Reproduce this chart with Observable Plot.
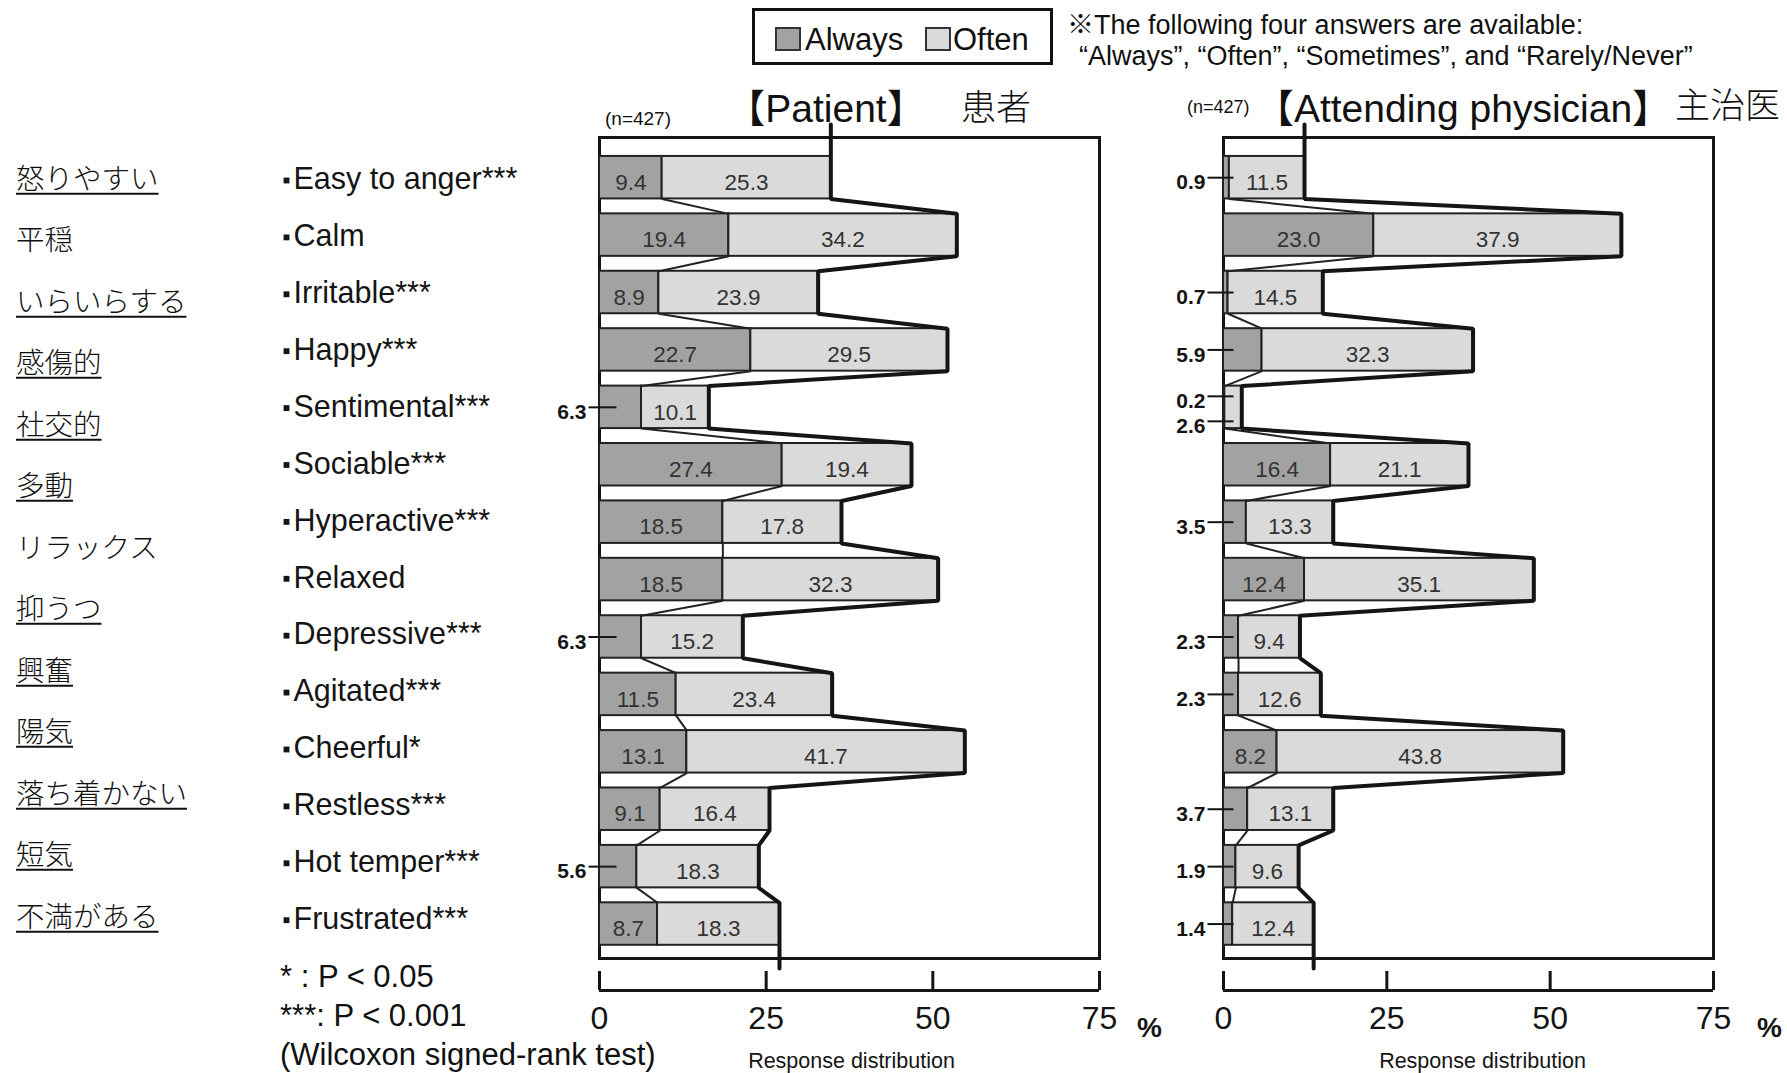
<!DOCTYPE html>
<html><head><meta charset="utf-8">
<script src="https://cdn.jsdelivr.net/npm/d3@7"></script>
<script src="https://cdn.jsdelivr.net/npm/@observablehq/plot@0.6"></script>
<style>
body{margin:0;background:#fff;}
#root{position:relative;width:1787px;height:1073px;overflow:hidden;font-family:"Liberation Sans",Arial,"Noto Sans CJK JP",sans-serif;color:#111;}
.t{position:absolute;white-space:nowrap;line-height:1;}
.jp{font-family:"Noto Sans CJK JP",sans-serif;font-weight:300;}
.layer{position:absolute;left:0;top:0;}
.sw{position:absolute;box-sizing:border-box;border:2px solid #333;}
</style></head><body><div id="root"></div>
<script>
// ---------------- data ----------------
const categories = ["Easy to anger***","Calm","Irritable***","Happy***","Sentimental***","Sociable***","Hyperactive***","Relaxed","Depressive***","Agitated***","Cheerful*","Restless***","Hot temper***","Frustrated***"];
const jaLabels = ["怒りやすい","平穏","いらいらする","感傷的","社交的","多動","リラックス","抑うつ","興奮","陽気","落ち着かない","短気","不満がある"];
const jaUnderlined = [true,false,true,true,true,true,false,true,true,true,true,true,true];
const patientAlways = [9.4,19.4,8.9,22.7,6.3,27.4,18.5,18.5,6.3,11.5,13.1,9.1,5.6,8.7];
const patientOften  = [25.3,34.2,23.9,29.5,10.1,19.4,17.8,32.3,15.2,23.4,41.7,16.4,18.3,18.3];
const physicianAlways = [0.9,23.0,0.7,5.9,0.2,16.4,3.5,12.4,2.3,2.3,8.2,3.7,1.9,1.4];
const physicianOften  = [11.5,37.9,14.5,32.3,2.6,21.1,13.3,35.1,9.4,12.6,43.8,13.1,9.6,12.4];
const xTicks = [0,25,50,75];
const seriesNames = ["Always","Often"];
const footnotes = ["* : P < 0.05","***: P < 0.001","(Wilcoxon signed-rank test)"];

// ---------------- style / layout ----------------
const W = 1787, H = 1073;
const C_ALWAYS = "#a2a2a2", C_OFTEN = "#dadada", INK = "#151515";
const FRAME_TOP = 137, FRAME_BOTTOM = 958;
const Y_DOMAIN = [-0.7, 13.6];
const PX_PER_Y = (FRAME_BOTTOM - FRAME_TOP) / (Y_DOMAIN[1] - Y_DOMAIN[0]);
const HALF = 0.37;               // half bar thickness (y units)
const SMALL = 7;                 // values below this are labelled outside
const LABEL_STEP = 56.9;         // px between English row labels
const LABEL_OFFSET = 1.8;        // px offset of first English label from first bar centre
const fmt = d3.format(".1f");

function panel({always, often, left, right, showCats, leader, labelDx, pctDx, titleDx}) {
  const rows = always.map((a, i) => ({i, cat: categories[i], always: a, often: often[i], total: a + often[i]}));
  const yExtTop = Y_DOMAIN[0] - 13 / PX_PER_Y;
  const yExtBot = Y_DOMAIN[1] + 10 / PX_PER_Y;
  const yAxis = Y_DOMAIN[1] + 32 / PX_PER_Y;
  const yTickTop = Y_DOMAIN[1] + 13 / PX_PER_Y;

  const outline = [{x: rows[0].total, y: yExtTop}];
  rows.forEach(r => { outline.push({x: r.total, y: r.i - HALF}); outline.push({x: r.total, y: r.i + HALF}); });
  outline.push({x: rows[rows.length - 1].total, y: yExtBot});

  const inner = d3.pairs(rows).map(([a, b]) => ({x1: a.always, y1: a.i + HALF, x2: b.always, y2: b.i - HALF}));

  const inside = [];
  const outside = [];
  rows.forEach(r => {
    const aSmall = r.always < SMALL, oSmall = r.often < SMALL;
    if (!aSmall) inside.push({x: r.always / 2, i: r.i, v: r.always});
    if (!oSmall) inside.push({x: r.always + r.often / 2, i: r.i, v: r.often});
    if (aSmall && oSmall) {
      outside.push({i: r.i, v: r.always, off: -11 / PX_PER_Y});
      outside.push({i: r.i, v: r.often, off: 14 / PX_PER_Y});
    } else if (aSmall) outside.push({i: r.i, v: r.always, off: 0});
    else if (oSmall) outside.push({i: r.i, v: r.often, off: 0});
  });

  const marks = [
    Plot.frame({stroke: INK, strokeWidth: 3}),
    Plot.rect(rows, {x1: 0, x2: "always", y1: d => d.i - HALF, y2: d => d.i + HALF, fill: C_ALWAYS, stroke: "#222", strokeWidth: 2}),
    Plot.rect(rows, {x1: "always", x2: "total", y1: d => d.i - HALF, y2: d => d.i + HALF, fill: C_OFTEN, stroke: "#222", strokeWidth: 2}),
    Plot.link(inner, {x1: "x1", y1: "y1", x2: "x2", y2: "y2", stroke: "#222", strokeWidth: 2}),
    Plot.line(outline, {x: "x", y: "y", stroke: INK, strokeWidth: 4, strokeLinejoin: "miter"}),
    Plot.text(inside, {x: "x", y: "i", text: d => fmt(d.v), dy: 5, fontSize: 22.5, fill: "#333"}),
    Plot.link(outside, {x1: leader[0], x2: leader[1], y1: d => d.i + d.off, y2: d => d.i + d.off, stroke: INK, strokeWidth: 2}),
    Plot.text(outside, {x: 0, y: d => d.i + d.off, text: d => fmt(d.v), dx: labelDx, dy: 5, textAnchor: "end", fontSize: 21, fontWeight: "bold", fill: INK}),
    // axis
    Plot.ruleY([yAxis], {x1: xTicks[0], x2: xTicks[xTicks.length - 1], stroke: INK, strokeWidth: 3}),
    Plot.ruleX(xTicks, {x: d => d, y1: yTickTop, y2: yAxis, stroke: INK, strokeWidth: 3}),
    Plot.text(xTicks, {x: d => d, y: Y_DOMAIN[1], dy: 60, text: d => String(d), fontSize: 32, fill: INK}),
    Plot.text(["%"], {x: xTicks[xTicks.length - 1], y: Y_DOMAIN[1], dx: pctDx, dy: 70, fontSize: 28, fontWeight: "bold", fill: INK}),
    Plot.text(["Response distribution"], {x: (xTicks[0] + xTicks[xTicks.length - 1]) / 2, y: Y_DOMAIN[1], dx: titleDx, dy: 103, fontSize: 21.5, fill: INK})
  ];
  if (showCats) {
    const labelY = d => (LABEL_OFFSET + LABEL_STEP * d.i) / PX_PER_Y;
    marks.push(Plot.dot(rows, {x: 0, y: labelY, dx: -313, dy: 1, symbol: "square", r: 3.3, fill: INK}));
    marks.push(Plot.text(rows, {x: 0, y: labelY, text: "cat", dx: -306, dy: 0, textAnchor: "start", fontSize: 30.5, fill: INK}));
  }
  return Plot.plot({
    width: W, height: H,
    marginLeft: left, marginRight: W - right, marginTop: FRAME_TOP, marginBottom: H - FRAME_BOTTOM,
    x: {domain: [0, 75], axis: null},
    y: {domain: Y_DOMAIN, reverse: true, axis: null},
    style: {background: "transparent", fontFamily: "'Liberation Sans', Arial, sans-serif", overflow: "visible"},
    marks
  });
}

const root = document.getElementById("root");
const p1 = panel({always: patientAlways, often: patientOften, left: 599, right: 1099, showCats: true, leader: [-11/6.667, 17/6.667], labelDx: -13, pctDx: 50, titleDx: 2});
const p2 = panel({always: physicianAlways, often: physicianOften, left: 1223, right: 1713, showCats: false, leader: [-16/6.533, 10/6.533], labelDx: -18, pctDx: 56, titleDx: 14});
p1.classList.add("layer"); p2.classList.add("layer");
root.appendChild(p1); root.appendChild(p2);

function txt(s, x, cy, size, opts = {}) {
  const el = document.createElement("div");
  el.className = "t" + (opts.jp ? " jp" : "");
  el.textContent = s;
  el.style.left = x + "px";
  el.style.top = cy + "px";
  el.style.fontSize = size + "px";
  el.style.transform = `translate(${opts.center ? "-50%" : "0"}, -50%)`;
  if (opts.weight) el.style.fontWeight = opts.weight;
  if (opts.underline) {
    el.style.textDecoration = "underline";
    el.style.textDecorationThickness = "2px";
    el.style.textUnderlineOffset = "4px";
  }
  root.appendChild(el);
  return el;
}

// Japanese labels
jaLabels.forEach((s, k) => txt(s, 16, 176.5 + 61.5 * k, 28.5, {jp: true, underline: jaUnderlined[k]}));

// Footnotes
footnotes.forEach((s, k) => txt(s, 280, 976 + 39 * k, 31));

// Titles
txt("(n=427)", 605, 118, 19);
txt("【Patient】", 826, 108, 39, {center: true});
txt("患者", 961, 104, 35, {jp: true});
txt("(n=427)", 1187, 107, 18);
txt("【Attending physician】", 1463, 108, 39, {center: true});
txt("主治医", 1675, 102, 35, {jp: true});

// Legend
const box = document.createElement("div");
Object.assign(box.style, {position: "absolute", left: "752px", top: "8px", width: "301px", height: "57px", boxSizing: "border-box", border: "3px solid #111"});
root.appendChild(box);
[[775, C_ALWAYS, 805], [925, C_OFTEN, 953]].forEach(([sx, c, tx], k) => {
  const sw = document.createElement("div");
  sw.className = "sw";
  Object.assign(sw.style, {left: sx + "px", top: "27px", width: "26px", height: "24px", background: c});
  root.appendChild(sw);
  txt(seriesNames[k], tx, 39, 31);
});
txt("※The following four answers are available:", 1067, 25, 27);
txt("“Always”, “Often”, “Sometimes”, and “Rarely/Never”", 1079, 56, 27);
</script></body></html>
